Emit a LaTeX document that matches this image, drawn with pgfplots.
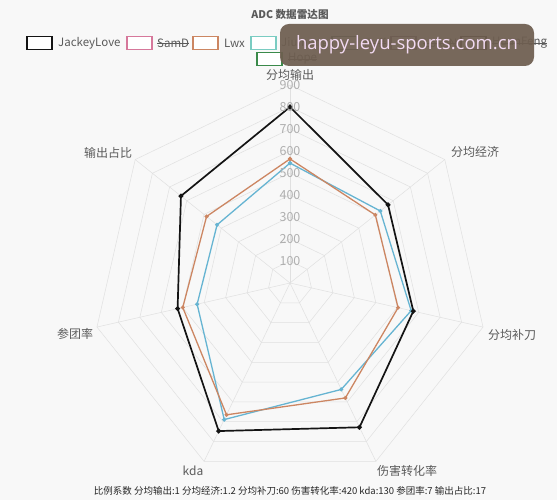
\documentclass[border=0pt]{standalone}
\usepackage{pgfplots}
\pgfplotsset{compat=1.18}
\usepgfplotslibrary{polar}
\usepackage{fontspec}
\setmainfont{Noto Sans CJK SC}
\newfontfamily\wmfont{Open Sans}

\definecolor{bgc}{RGB}{248,248,248}
\definecolor{gridc}{RGB}{224,224,224}
\definecolor{tickc}{RGB}{175,175,175}
\definecolor{labc}{RGB}{90,90,90}
\definecolor{jkl}{RGB}{20,20,20}
\definecolor{samd}{RGB}{214,120,155}
\definecolor{lwx}{RGB}{204,134,98}
\definecolor{jiu}{RGB}{102,180,210}
\definecolor{jiuleg}{RGB}{122,204,194}
\definecolor{puff}{RGB}{78,104,104}
\definecolor{loken}{RGB}{110,88,120}
\definecolor{huan}{RGB}{48,30,30}
\definecolor{hope}{RGB}{58,138,74}
\definecolor{wmc}{RGB}{110,94,80}
\definecolor{wmtext}{RGB}{242,218,242}

% angle (deg) radius ; order: 分均输出 分均经济 分均补刀 伤害转化率 kda 参团率 输出占比
\pgfplotstableread{
a r
90 800
38.5714 570
347.1429 575
295.7143 728
244.2857 747
192.8571 524
141.4286 634
90 800
}\jackeylove
\pgfplotstableread{
a r
90 564
38.5714 496
347.1429 504
295.7143 580
244.2857 665
192.8571 500
141.4286 485
90 564
}\lwx
\pgfplotstableread{
a r
90 545
38.5714 525
347.1429 565
295.7143 537
244.2857 689
192.8571 433
141.4286 424
90 545
}\jiumeng

\newcommand{\legbox}[3]{%
  \draw[#3, line width=1.1pt, fill=white] (#1pt,#2pt-6.5pt) rectangle ++(25pt,13pt);}

\begin{document}
\begin{tikzpicture}[x=1pt,y=1pt]
\fill[bgc] (0,0) rectangle (557,500);

\begin{polaraxis}[
    at={(290pt,217pt)}, anchor=center,
    scale only axis, width=396pt, height=396pt,
    xmin=0, xmax=360, ymin=0, ymax=900,
    hide axis, clip=false,
]
% grid polygons
\pgfplotsinvokeforeach{100,200,300,400,500,600,700,800,900}{
  \addplot[gridc, line width=0.5pt, forget plot] coordinates {
    (90,#1) (38.5714,#1) (347.1429,#1) (295.7143,#1)
    (244.2857,#1) (192.8571,#1) (141.4286,#1) (90,#1)};
}
% spokes
\pgfplotsinvokeforeach{90,38.5714,347.1429,295.7143,244.2857,192.8571,141.4286}{
  \addplot[gridc, line width=0.5pt, forget plot] coordinates {(#1,0) (#1,900)};
}
\addplot[jiu, line width=1.3pt, mark=*, mark size=1.3pt] table[x=a,y=r] {\jiumeng};
\addplot[lwx, line width=1.3pt, mark=*, mark size=1.3pt] table[x=a,y=r] {\lwx};
\addplot[jkl, line width=1.7pt, mark=*, mark size=1.5pt] table[x=a,y=r] {\jackeylove};
\end{polaraxis}

% tick labels on the top spoke
\foreach \v [count=\i] in {100,200,300,400,500,600,700,800,900}
  \node[tickc, font=\fontsize{12.5}{14}\selectfont, inner sep=0] at (290,217+22*\i) {\v};

% axis labels
\begin{scope}[font=\fontsize{12}{14}\selectfont, labc, inner sep=0]
\node at (290,425) {分均输出};
\node at (475,348) {分均经济};
\node at (512,165) {分均补刀};
\node at (407,29) {伤害转化率};
\node at (193,29) {kda};
\node at (75,166) {参团率};
\node at (108,347) {输出占比};
\end{scope}

% title
\node[font=\bfseries\fontsize{10.6}{12}\selectfont, labc, inner sep=0] at (290,485) {ADC 数据雷达图};

% legend
\begin{scope}[font=\fontsize{11.5}{13}\selectfont, inner sep=0, anchor=west]
\legbox{27}{457}{jkl}   \node[labc, anchor=west] at (58,457) {JackeyLove};
\legbox{127}{457}{samd} \node[labc, anchor=west] (s1) at (157,457) {SamD};
\draw[labc, line width=0.6pt] (s1.west) -- (s1.east);
\legbox{193}{457}{lwx}  \node[labc, anchor=west] at (224,457) {Lwx};
\legbox{251}{457}{jiuleg} \node[labc, anchor=west] at (281,457) {Jiumeng};
\legbox{332}{457}{puff} \node[labc, anchor=west] (s2) at (364,457) {Puff};
\draw[labc, line width=0.6pt] (s2.west) -- (s2.east);
\legbox{391}{457}{loken} \node[labc, anchor=west] (s3) at (423,457) {LokeN};
\draw[labc, line width=0.6pt] (s3.west) -- (s3.east);
\legbox{461}{457}{huan} \node[labc, anchor=west] (s4) at (492,457) {HuanFeng};
\draw[labc, line width=0.6pt] (s4.west) -- (s4.east);
\legbox{257}{441}{hope} \node[labc, anchor=west] (s5) at (288,441) {Hope};
\draw[labc, line width=0.6pt] (s5.west) -- (s5.east);
\end{scope}

% watermark overlay
\fill[wmc, opacity=0.93, rounded corners=9pt] (280,434) rectangle (534,476);
\node[wmtext, font=\wmfont\fontsize{18.5}{20}\selectfont, inner sep=0] at (407,455) {happy-leyu-sports.com.cn};

% footnote
\node[font=\fontsize{9.5}{11}\selectfont, black!85, inner sep=0] at (290,9)
  {比例系数 分均输出:1 分均经济:1.2 分均补刀:60 伤害转化率:420 kda:130 参团率:7 输出占比:17};

\pgfresetboundingbox
\useasboundingbox (0,0) rectangle (557,500);
\end{tikzpicture}
\end{document}
